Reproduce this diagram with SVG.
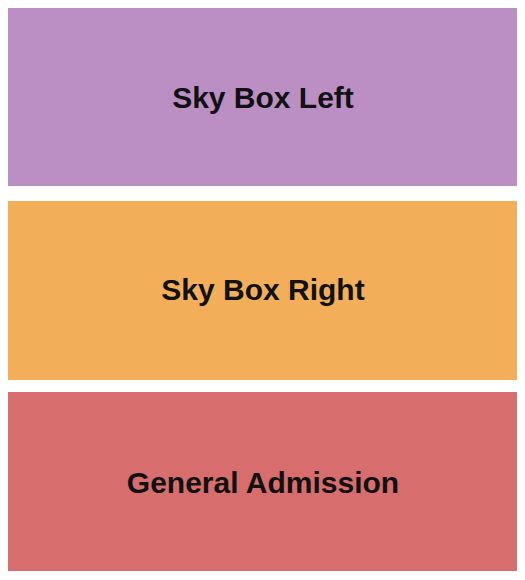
<svg xmlns="http://www.w3.org/2000/svg" width="525" height="580" viewBox="0 0 525 580">
<style>
.lbl{font-family:"Liberation Sans",Arial,sans-serif;font-weight:bold;font-size:30px;fill:#111;text-anchor:middle}
</style>
<rect width="525" height="580" fill="#fff"/>
<g id="sky-box-left"><rect x="8" y="8" width="509" height="178" fill="#BB8FC3"/><text class="lbl" x="263" y="108">Sky Box Left</text></g>
<g id="sky-box-right"><rect x="8" y="201" width="509" height="179" fill="#F3AE5A"/><text class="lbl" x="263" y="300">Sky Box Right</text></g>
<g id="general-admission"><rect x="8" y="392" width="509" height="179" fill="#D86D6D"/><text class="lbl" x="263" y="493">General Admission</text></g>
<g id="connectors"/>
</svg>
